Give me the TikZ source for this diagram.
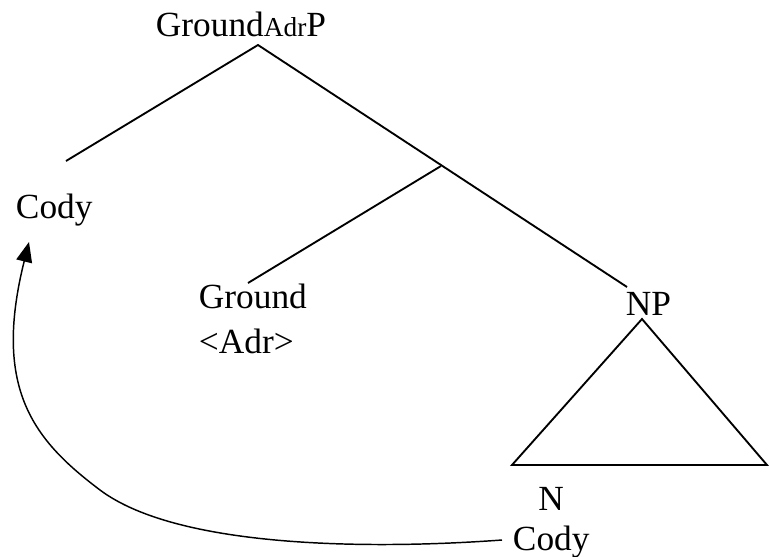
\documentclass[tikz,border=0pt]{standalone}
\usepackage{fontspec}
\setmainfont{Liberation Serif}
\usetikzlibrary{arrows.meta}
\begin{document}
\begin{tikzpicture}[x=0.75pt,y=-0.75pt,line width=1.4pt,
  lbl/.style={anchor=base west,inner sep=0pt,font=\fontsize{26.5}{33.75}\selectfont}]
\useasboundingbox (0,0) rectangle (769,557);
% labels
\node[lbl] (groundadrp) at (155,36) {Ground{\fontsize{20.5}{24}\selectfont Adr}P};
\node[lbl] (cody) at (15,218) {Cody};
\node[lbl,align=left] (ground) at (198,353) {Ground\\<Adr>};
\node[lbl] (np) at (625,315) {NP};
\node[lbl,align=center] (n) at (512,550) {N\\[-3.75pt]Cody};
% branch ends
\coordinate (top) at (258,45);
\coordinate (spec) at (66,161);
\coordinate (bar) at (441,166);
\coordinate (npup) at (627,287);
\coordinate (headup) at (248,283);
\coordinate (npdown) at (642,319);
\coordinate (triL) at (512,465);
\coordinate (triR) at (767,465);
\coordinate (mvstart) at (502,540);
\coordinate (mvmid) at (100,490);
\coordinate (mvtip) at (29,242);
\draw (spec) -- (top) -- (npup);
\draw (bar) -- (headup);
\draw[line join=miter] (npdown) -- (triL) -- (triR) -- cycle;
\draw[line width=1.1pt,-{Triangle[length=15pt,width=12pt]}] (mvstart)
  .. controls (380,549) and (180,550) .. (mvmid)
  .. controls (35,441) and (-8,390) .. (mvtip);
\end{tikzpicture}
\end{document}
